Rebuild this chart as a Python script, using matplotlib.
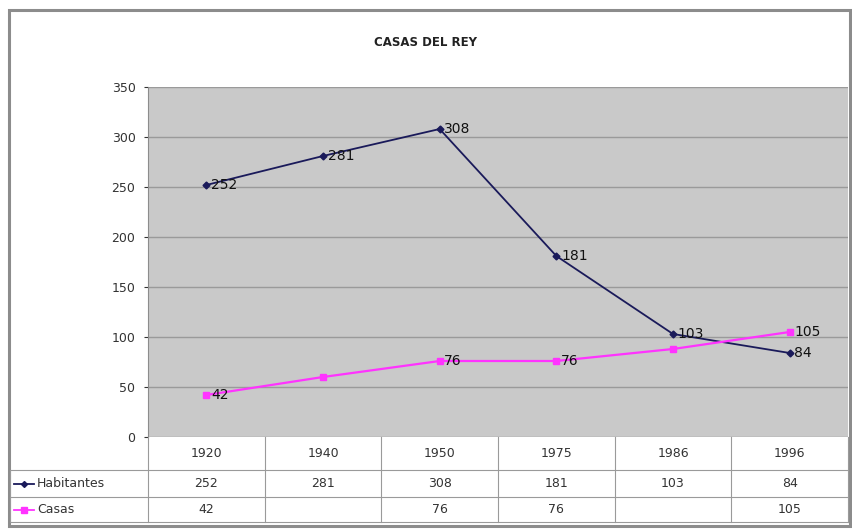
import matplotlib.pyplot as plt
import matplotlib.transforms as mtransforms
from matplotlib.patches import Rectangle
from matplotlib.lines import Line2D

years = ['1920', '1940', '1950', '1975', '1986', '1996']
habitantes = [252, 281, 308, 181, 103, 84]
casas = [42, 60, 76, 76, 88, 105]
habitantes_labels = ['252', '281', '308', '181', '103', '84']
casas_labels = ['42', '', '76', '76', '', '105']

W, H = 852, 532
fig = plt.figure(figsize=(W / 100, H / 100), dpi=100)
fig.patch.set_facecolor('white')

# outer chart frame (Excel style)
fig.add_artist(Rectangle((9 / W, 6 / H), 841 / W, 516 / H, transform=fig.transFigure,
                         fill=False, edgecolor='#8c8c8c', lw=2.2))

left, right, top, bottom = 148, 848, 87, 437
ax = fig.add_axes([left / W, 1 - bottom / H, (right - left) / W, (bottom - top) / H])
ax.set_facecolor('#c9c9c9')
x = list(range(len(years)))
ax.set_xlim(-0.5, len(years) - 0.5)
ax.set_ylim(0, 350)
ax.set_yticks(range(0, 351, 50))
ax.tick_params(axis='y', labelsize=9, colors='#333333', length=3, pad=6)
ax.set_xticks([])
ax.grid(axis='y', color='#9a9a9a', lw=1.0)
ax.set_axisbelow(True)
for s in ['top', 'right', 'bottom']:
    ax.spines[s].set_visible(False)
ax.spines['left'].set_color('#8c8c8c')

ax.plot(x, habitantes, color='#1a1a5a', lw=1.3, marker='D', ms=3.5, zorder=3)
ax.plot(x, casas, color='#ff33ff', lw=1.6, marker='s', ms=4.5, zorder=3)
for xi, v, lab in zip(x, habitantes, habitantes_labels):
    ax.text(xi + 0.04, v, lab, fontsize=10, va='center', ha='left', color='#111111', zorder=4)
for xi, v, lab in zip(x, casas, casas_labels):
    ax.text(xi + 0.04, v, lab, fontsize=10, va='center', ha='left', color='#111111', zorder=4)

fig.text(425 / W, 1 - 43 / H, 'CASAS DEL REY', fontsize=8.5,
         fontweight='bold', ha='center', va='center', color='#222222')

# data table below the plot
trans = mtransforms.blended_transform_factory(ax.transData, fig.transFigure)
row_edges = [437, 470, 497, 522]
grid_c = '#9a9a9a'
for r in row_edges[1:]:
    fig.add_artist(Line2D([10 / W, right / W], [1 - r / H, 1 - r / H], color=grid_c, lw=0.8))
for i in range(len(years) + 1):
    xb = i - 0.5
    fig.add_artist(Line2D([xb, xb], [1 - row_edges[0] / H, 1 - row_edges[-1] / H],
                          transform=trans, color=grid_c, lw=0.8))
fig.add_artist(Line2D([10 / W, 10 / W], [1 - row_edges[1] / H, 1 - row_edges[-1] / H],
                      color=grid_c, lw=0.8))

ymid = [(row_edges[i] + row_edges[i + 1]) / 2 for i in range(3)]
for xi, yr, h, c in zip(x, years, habitantes_labels, casas_labels):
    fig.text(xi, 1 - ymid[0] / H, yr, transform=trans, ha='center', va='center', fontsize=9, color='#333333')
    fig.text(xi, 1 - ymid[1] / H, h, transform=trans, ha='center', va='center', fontsize=9, color='#333333')
    fig.text(xi, 1 - ymid[2] / H, c, transform=trans, ha='center', va='center', fontsize=9, color='#333333')

# legend keys inside the table
for yy, col, mk, ms, name in [(ymid[1], '#1a1a5a', 'D', 3, 'Habitantes'),
                              (ymid[2], '#ff33ff', 's', 4, 'Casas')]:
    fig.add_artist(Line2D([14 / W, 34 / W], [1 - yy / H, 1 - yy / H], color=col, lw=1.3))
    fig.add_artist(Line2D([24 / W], [1 - yy / H], color=col, marker=mk, ms=ms))
    fig.text(37 / W, 1 - yy / H, name, ha='left', va='center', fontsize=9, color='#333333')

fig.savefig('out.png', dpi=100)
